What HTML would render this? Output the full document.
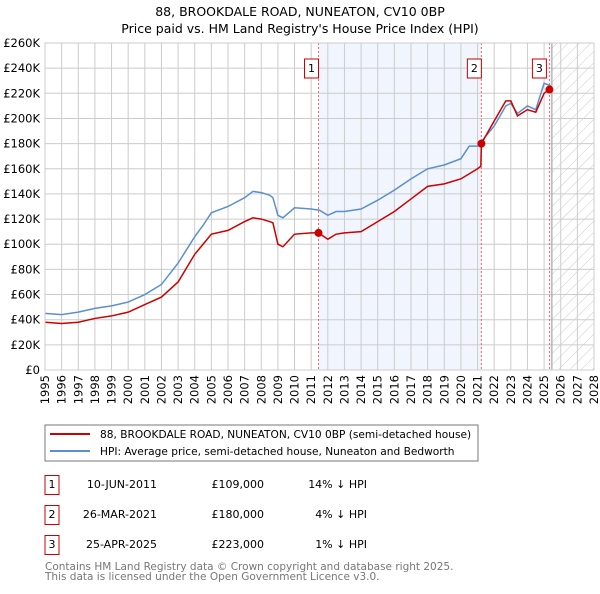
<!DOCTYPE html>
<html><head><meta charset="utf-8"><style>
body{margin:0;background:#fff;width:600px;height:590px;overflow:hidden;font-family:"DejaVu Sans","Liberation Sans",sans-serif}
svg text{font-family:"DejaVu Sans","Liberation Sans",sans-serif}
</style></head><body>
<svg id="c" width="600" height="590">
<defs><pattern id="hatch" width="8" height="8" patternUnits="userSpaceOnUse" patternTransform="rotate(45)"><line x1="0" y1="0" x2="0" y2="8" stroke="#ccc" stroke-width="1"/></pattern></defs>
<text x="300" y="16" text-anchor="middle" font-size="12.5">88, BROOKDALE ROAD, NUNEATON, CV10 0BP</text>
<text x="300" y="33" text-anchor="middle" font-size="12.5">Price paid vs. HM Land Registry's House Price Index (HPI)</text>
<g id="plot"></g>
<rect x="45" y="425" width="433" height="36" fill="#fff" stroke="#777"/>
<line x1="50" y1="434" x2="90" y2="434" stroke="#cc0000" stroke-width="2"/>
<text x="100" y="438" font-size="10.6">88, BROOKDALE ROAD, NUNEATON, CV10 0BP (semi-detached house)</text>
<line x1="50" y1="451" x2="90" y2="451" stroke="#5b8fd0" stroke-width="2"/>
<text x="100" y="455" font-size="10.6">HPI: Average price, semi-detached house, Nuneaton and Bedworth</text>
<g font-size="11">
<rect x="45" y="475.5" width="14" height="19" fill="#fff" stroke="#c00"/><text x="52" y="488" text-anchor="middle">1</text>
<text x="157" y="488" text-anchor="end">10-JUN-2011</text><text x="264" y="488" text-anchor="end">£109,000</text><text x="367" y="488" text-anchor="end">14% ↓ HPI</text>
<rect x="45" y="505.5" width="14" height="19" fill="#fff" stroke="#c00"/><text x="52" y="518" text-anchor="middle">2</text>
<text x="157" y="518" text-anchor="end">26-MAR-2021</text><text x="264" y="518" text-anchor="end">£180,000</text><text x="367" y="518" text-anchor="end">4% ↓ HPI</text>
<rect x="45" y="535.5" width="14" height="19" fill="#fff" stroke="#c00"/><text x="52" y="548" text-anchor="middle">3</text>
<text x="157" y="548" text-anchor="end">25-APR-2025</text><text x="264" y="548" text-anchor="end">£223,000</text><text x="367" y="548" text-anchor="end">1% ↓ HPI</text>
</g>
<text x="45" y="570" font-size="10.5" fill="#777">Contains HM Land Registry data © Crown copyright and database right 2025.</text>
<text x="45" y="580" font-size="10.5" fill="#777">This data is licensed under the Open Government Licence v3.0.</text>
</svg>
<script>
const hpiYears=[1995,1996,1997,1998,1999,2000,2001,2002,2003,2004,2004.5,2005,2006,2007,2007.5,2008,2008.5,2008.7,2009,2009.3,2010,2011,2011.5,2012,2012.5,2013,2014,2015,2016,2017,2018,2019,2020,2020.5,2021,2022,2022.7,2023,2023.4,2024,2024.5,2025,2025.4];
const hpiValues=[45,44,46,49,51,54,60,68,85,106,115,125,130,137,142,141,139,137,123,121,129,128,127,123,126,126,128,135,143,152,160,163,168,178,178,194,210,212,204,210,207,228,226];
const priceYears=[1995,1996,1997,1998,1999,2000,2001,2002,2003,2004,2004.5,2005,2006,2007,2007.5,2008,2008.5,2008.7,2009,2009.3,2010,2011,2011.44,2012,2012.5,2013,2014,2015,2016,2017,2018,2019,2020,2021,2021.2,2021.23,2022,2022.7,2023,2023.4,2024,2024.5,2025,2025.32];
const priceValues=[38,37,38,41,43,46,52,58,70,92,100,108,111,118,121,120,118,117,100,98,108,109,109,104,108,109,110,118,126,136,146,148,152,160,162,180,198,214,214,202,207,205,220,223];
const saleYears=[2011.44,2021.23,2025.32];
const saleValues=[109,180,223];
const saleLabels=["1","2","3"];
const yTicks=[0,20,40,60,80,100,120,140,160,180,200,220,240,260];
const xTicks=[1995,1996,1997,1998,1999,2000,2001,2002,2003,2004,2005,2006,2007,2008,2009,2010,2011,2012,2013,2014,2015,2016,2017,2018,2019,2020,2021,2022,2023,2024,2025,2026,2027,2028];
const L=45,R=594,T=43,B=370,x0=1995,x1=2028,yMax=260,future=2025.47;
const X=v=>L+(v-x0)/(x1-x0)*(R-L), Y=v=>B-v/yMax*(B-T);
const NS="http://www.w3.org/2000/svg", g=document.getElementById('plot');
function mk(t,a){const e=document.createElementNS(NS,t);for(const k in a)e.setAttribute(k,a[k]);g.appendChild(e);return e;}
let e=mk('rect',{x:X(saleYears[0]),y:T,width:X(saleYears[1])-X(saleYears[0]),height:B-T,fill:'#eef3fd',opacity:0.8});


e=mk('rect',{x:X(saleYears[2]),y:T,width:X(future)-X(saleYears[2]),height:B-T,fill:'#eef3fd'});


e=mk('rect',{x:X(future),y:T,width:R-X(future),height:B-T,fill:'url(#hatch)'});


xTicks.forEach(t=>{const l=mk('line',{x1:X(t),x2:X(t),y1:T,y2:B,stroke:'#ccc'});


const tx=mk('text',{x:0,y:0,'font-size':11.5,'text-anchor':'end',transform:`translate(${X(t)+4},${B+5}) rotate(-90)`});tx.textContent=t;

});
yTicks.forEach(t=>{const l=mk('line',{x1:L,x2:R,y1:Y(t),y2:Y(t),stroke:'#ccc'});


const tx=mk('text',{x:L-5,y:Y(t)+4,'font-size':11.5,'text-anchor':'end'});tx.textContent=t===0?'£0':'£'+t+'K';

});
e=mk('line',{x1:X(future),x2:X(future),y1:T,y2:B,stroke:'#999'});


saleYears.forEach((s,i)=>{const l=mk('line',{x1:X(s),x2:X(s),y1:T,y2:B,stroke:'#e66','stroke-dasharray':'2,2'});

});
e=mk('polyline',{points:hpiYears.map((y,i)=>X(y)+','+Y(hpiValues[i])).join(' '),fill:'none',stroke:'#5b8fd0','stroke-width':1.5});


e=mk('polyline',{points:priceYears.map((y,i)=>X(y)+','+Y(priceValues[i])).join(' '),fill:'none',stroke:'#cc0000','stroke-width':1.5});


saleYears.forEach((s,i)=>{const c=mk('circle',{cx:X(s),cy:Y(saleValues[i]),r:4,fill:'#cc0000'});


const r=mk('rect',{x:X(s)-(i===2?3:0)-14,y:59,width:14,height:19,fill:'#fff',stroke:'#c00'});


const t=mk('text',{x:X(s)-(i===2?3:0)-7,y:72,'font-size':11,'text-anchor':'middle'});t.textContent=saleLabels[i];

});
e=mk('rect',{x:L,y:T,width:R-L,height:B-T,fill:'none',stroke:'#ccc'});


</script>
</body></html>
